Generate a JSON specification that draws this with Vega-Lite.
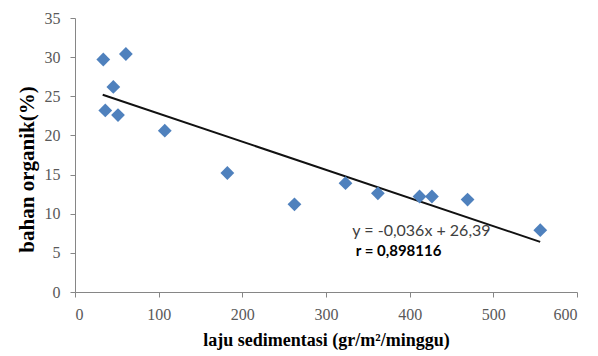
{
  "$schema": "https://vega.github.io/schema/vega-lite/v6.json",
  "width": 502,
  "height": 274,
  "autosize": {"type": "none"},
  "padding": {"left": 75, "top": 18, "right": 21, "bottom": 64},
  "background": "white",
  "config": {"view": {"stroke": null}},
  "datasets": {
    "points": [
      {"laju": 33.8, "bahan": 29.7},
      {"laju": 60.8, "bahan": 30.4},
      {"laju": 45.8, "bahan": 26.2},
      {"laju": 36.2, "bahan": 23.2},
      {"laju": 51.4, "bahan": 22.6},
      {"laju": 107.3, "bahan": 20.6},
      {"laju": 182.1, "bahan": 15.2},
      {"laju": 262.3, "bahan": 11.2},
      {"laju": 323.3, "bahan": 13.9},
      {"laju": 362.0, "bahan": 12.6},
      {"laju": 411.8, "bahan": 12.2},
      {"laju": 426.6, "bahan": 12.2},
      {"laju": 469.2, "bahan": 11.8},
      {"laju": 556.1, "bahan": 7.9}
    ],
    "trend": [
      {"laju": 33.1, "bahan": 25.2},
      {"laju": 556.0, "bahan": 6.4}
    ],
    "notes": [
      {"laju": 331.5, "bahan": 7.8, "label": "y = -0,036x + 26,39", "kind": "eq"},
      {"laju": 335.5, "bahan": 5.2, "label": "r = 0,898116", "kind": "r"}
    ]
  },
  "encoding": {
    "x": {
      "field": "laju", "type": "quantitative",
      "scale": {"domain": [0, 600], "nice": false, "zero": false},
      "axis": {
        "title": "laju sedimentasi (gr/m²/minggu)",
        "values": [0, 100, 200, 300, 400, 500, 600],
        "grid": false,
        "domainColor": "#868686", "tickColor": "#868686", "tickSize": 5,
        "labelFont": "Liberation Serif", "labelFontSize": 16, "labelColor": "#595959",
        "labelPadding": 9,
        "titleFont": "Liberation Serif", "titleFontSize": 18, "titleFontWeight": "bold", "titleColor": "#000000",
        "titlePadding": 9
      }
    },
    "y": {
      "field": "bahan", "type": "quantitative",
      "scale": {"domain": [0, 35], "nice": false, "zero": false},
      "axis": {
        "title": "bahan organik(%)",
        "values": [0, 5, 10, 15, 20, 25, 30, 35],
        "grid": false,
        "domainColor": "#868686", "tickColor": "#868686", "tickSize": 5,
        "labelFont": "Liberation Serif", "labelFontSize": 16, "labelColor": "#595959",
        "labelPadding": 10,
        "titleFont": "Liberation Serif", "titleFontSize": 21, "titleFontWeight": "bold", "titleColor": "#000000",
        "titlePadding": 7,
        "titleY": 151
      }
    }
  },
  "layer": [
    {
      "data": {"name": "trend"},
      "mark": {"type": "line", "color": "#111111", "strokeWidth": 2}
    },
    {
      "data": {"name": "points"},
      "mark": {"type": "point", "shape": "diamond", "filled": true, "color": "#4F81BD", "opacity": 1, "size": 190}
    },
    {
      "data": {"name": "notes"},
      "transform": [{"filter": "datum.kind === 'eq'"}],
      "mark": {"type": "text", "align": "left", "baseline": "middle", "font": "Lato", "fontSize": 16, "color": "#404040"},
      "encoding": {"text": {"field": "label"}}
    },
    {
      "data": {"name": "notes"},
      "transform": [{"filter": "datum.kind === 'r'"}],
      "mark": {"type": "text", "align": "left", "baseline": "middle", "font": "Lato", "fontSize": 15, "fontWeight": "bold", "color": "#000000"},
      "encoding": {"text": {"field": "label"}}
    }
  ]
}
